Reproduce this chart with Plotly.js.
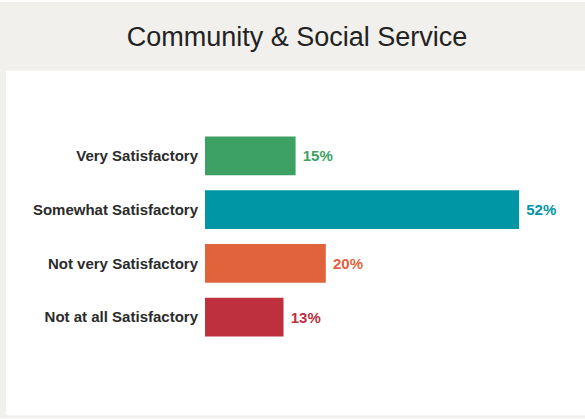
<!DOCTYPE html>
<html>
<head>
<meta charset="utf-8">
<script src="https://cdn.plot.ly/plotly-3.0.1.min.js"></script>
<style>
html,body{margin:0;padding:0;background:#ffffff;}
#chart{width:585px;height:419px;}
</style>
</head>
<body>
<div id="chart"></div>
<script>
var categories = ["Very Satisfactory", "Somewhat Satisfactory", "Not very Satisfactory", "Not at all Satisfactory"];
var values = [15, 52, 20, 13];
var barColors = ["#3ca163", "#0096a6", "#e0633c", "#be303e"];
var chartTitle = "Community & Social Service";

var W = 585, H = 419;
var mL = 205, mR = 20, mT = 128.5, mB = 74.5;
var pw = W - mL - mR, ph = H - mT - mB;
var pxPerUnit = 6.04;

function px2x(px){ return (px - mL) / pw; }
function py2y(py){ return (H - mB - py) / ph; }

var grey = "#f1f0ec";
var shapes = [
  {type:"rect", xref:"paper", yref:"paper", layer:"below",
   x0:px2x(0), x1:px2x(W), y0:py2y(70), y1:py2y(1),
   fillcolor:grey, line:{width:0}},
  {type:"rect", xref:"paper", yref:"paper", layer:"below",
   x0:px2x(0), x1:px2x(6), y0:py2y(H), y1:py2y(70),
   fillcolor:grey, line:{width:0}},
  {type:"rect", xref:"paper", yref:"paper", layer:"below",
   x0:px2x(0), x1:px2x(W), y0:py2y(H), y1:py2y(416),
   fillcolor:grey, line:{width:0}}
];

var trace = {
  type: "bar",
  orientation: "h",
  x: values,
  y: categories,
  marker: {color: barColors, line: {width: 0}},
  text: values.map(function(v){ return "\u00a0" + v + "%"; }),
  textposition: "outside",
  cliponaxis: false,
  textfont: {family: "Liberation Sans, Arial, sans-serif", size: 15, color: barColors, weight: "bold"},
  hoverinfo: "skip"
};

var layout = {
  width: W, height: H,
  margin: {l: mL, r: mR, t: mT, b: mB, pad: 0},
  paper_bgcolor: "#ffffff",
  plot_bgcolor: "rgba(0,0,0,0)",
  showlegend: false,
  bargap: 0.278,
  title: {
    text: chartTitle,
    font: {family: "Liberation Sans, Arial, sans-serif", size: 27, color: "#222222"},
    xref: "container", yref: "container",
    x: 297 / W, xanchor: "center",
    y: 1 - 37 / H, yanchor: "middle"
  },
  xaxis: {
    range: [0, pw / pxPerUnit],
    showgrid: false, zeroline: false, showline: false,
    showticklabels: false, ticks: "", fixedrange: true
  },
  yaxis: {
    type: "category",
    autorange: "reversed",
    showgrid: false, zeroline: false, showline: false,
    ticks: "", ticklabelstandoff: 6,
    tickfont: {family: "Liberation Sans, Arial, sans-serif", size: 15, color: "#2b2b2b", weight: "bold"},
    fixedrange: true
  },
  shapes: shapes,
  hovermode: false
};

Plotly.newPlot("chart", [trace], layout, {displayModeBar: false, staticPlot: true});
</script>
</body>
</html>
